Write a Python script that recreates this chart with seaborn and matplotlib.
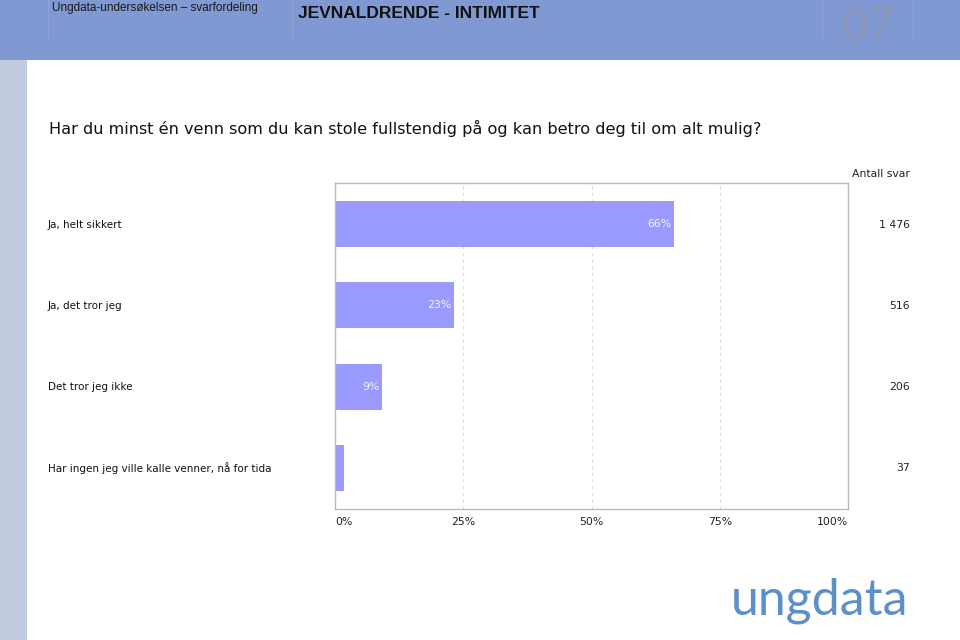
import matplotlib
matplotlib.use("Agg")
import matplotlib.pyplot as plt
import seaborn as sns
import pandas as pd
from matplotlib.patches import Rectangle
from matplotlib.lines import Line2D

categories = ["Ja, helt sikkert", "Ja, det tror jeg", "Det tror jeg ikke",
              "Har ingen jeg ville kalle venner, nå for tida"]
percent = [66.0, 23.1, 9.2, 1.7]
pct_labels = ["66%", "23%", "9%", ""]
counts = ["1 476", "516", "206", "37"]
xticks = [0, 25, 50, 75, 100]
xtick_labels = ["0%", "25%", "50%", "75%", "100%"]

sns.set_theme(style="white")
plt.rcParams['font.family'] = ['DejaVu Sans']

W, H = 960, 640
fig = plt.figure(figsize=(9.6, 6.4), dpi=100)
fig.patch.set_facecolor("white")

def fx(px): return px / W
def fy(py): return 1 - py / H

# header band and left strip
fig.patches.append(Rectangle((0, fy(60)), 1, 60 / H, transform=fig.transFigure,
                             facecolor="#8199d3", edgecolor="none", zorder=0))
fig.patches.append(Rectangle((0, 0), fx(27), fy(60), transform=fig.transFigure,
                             facecolor="#c1cce0", edgecolor="none", zorder=0))
for xp in [48, 292, 822, 913]:
    fig.lines.append(Line2D([fx(xp), fx(xp)], [fy(40), fy(0)], transform=fig.transFigure,
                            color="#8fa4d8", lw=0.8))

fig.text(fx(52), fy(8), "Ungdata-undersøkelsen – svarfordeling", family="Liberation Sans",
         fontsize=8.5, color="#1a1a1a", va="center", ha="left")
fig.text(fx(298), fy(13), "JEVNALDRENDE - INTIMITET", family="Liberation Sans",
         fontsize=12.5, fontweight="bold", color="#111111", va="center", ha="left")
fig.text(fx(867), fy(40), "07", family="Liberation Sans", fontsize=34,
         color="#8f97b8", va="baseline", ha="center")

fig.text(fx(49), fy(128), "Har du minst én venn som du kan stole fullstendig på og kan betro deg til om alt mulig?",
         fontsize=11.6, color="#111111", va="center", ha="left")

ax = fig.add_axes([fx(335), fy(509), fx(848) - fx(335), (509 - 183) / H])
df = pd.DataFrame({"cat": categories, "pct": percent})
sns.barplot(data=df, x="pct", y="cat", orient="h", color="#9a9aff", saturation=1,
            width=0.56, ax=ax, edgecolor="none")
ax.set_xlim(0, 100)
ax.set_xticks(xticks)
ax.set_xticklabels(xtick_labels, fontsize=7.8, color="#222222")
tl = ax.get_xticklabels()
tl[0].set_horizontalalignment("left")
tl[-1].set_horizontalalignment("right")
ax.tick_params(axis="x", length=0, pad=6)
ax.set_yticks([])
ax.set_xlabel("")
ax.set_ylabel("")
for xv in xticks[1:-1]:
    ax.axvline(xv, color="#dddddd", lw=0.8, ls=(0, (3, 3)), zorder=0)
for s in ax.spines.values():
    s.set_color("#bbbbbb")
    s.set_linewidth(1)

for i, (p, lab) in enumerate(zip(percent, pct_labels)):
    if lab:
        ax.text(p - 0.5, i, lab, ha="right", va="center", fontsize=7.8, color="#f4f4ff")

for i, (cat, c) in enumerate(zip(categories, counts)):
    y = fy(225 + i * 81)
    fig.text(fx(48), y, cat, fontsize=7.5, color="#111111", ha="left", va="center")
    fig.text(fx(910), y, c, fontsize=7.8, color="#222222", ha="right", va="center")
fig.text(fx(910), fy(174), "Antall svar", fontsize=7.8, color="#222222", ha="right", va="center")

fig.text(fx(820), fy(601), "ungdata", family="Lato", fontsize=36,
         color="#5b90c9", ha="center", va="center")

fig.savefig("out.png", dpi=100)
